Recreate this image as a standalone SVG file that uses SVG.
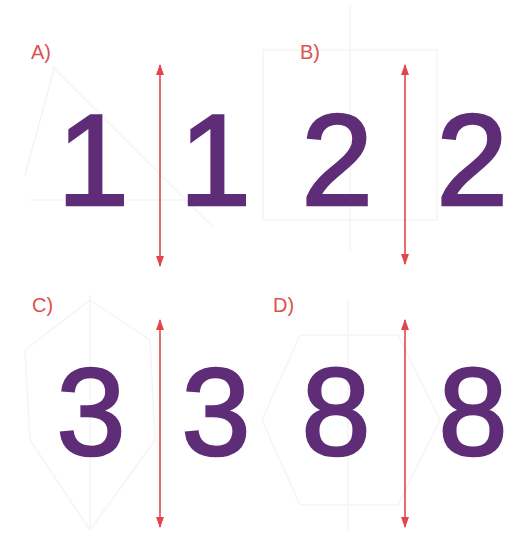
<svg xmlns="http://www.w3.org/2000/svg" width="523" height="538" viewBox="0 0 523 538">
<defs>
<style>
.lbl{font-family:"Liberation Sans",Arial,sans-serif;font-size:20px;fill:#e0504f}
.dig{font-family:"Liberation Sans",Arial,sans-serif;fill:#5f2d78;stroke:#5f2d78;stroke-width:2.6;stroke-linejoin:miter;text-anchor:middle}
.top{font-size:129px}
.bot{font-size:124px}
.arr{stroke:#e0474c;stroke-width:1.6;fill:none;marker-start:url(#ah);marker-end:url(#ah)}
.ghost{stroke:#f7f3f6;stroke-width:1.5;fill:none}
</style>
<marker id="ah" viewBox="0 0 10 10" refX="9" refY="5" markerWidth="11" markerHeight="8" markerUnits="userSpaceOnUse" orient="auto-start-reverse" preserveAspectRatio="none">
<path d="M0,0 L10,5 L0,10 z" fill="#e0474c"/>
</marker>
</defs>
<rect width="523" height="538" fill="#ffffff"/>
<g id="ghosts">
<path class="ghost" d="M52,66 L212,226 M30,200 L190,200 M55,66 L25,175"/>
<rect class="ghost" x="263" y="50" width="174" height="170"/>
<path class="ghost" d="M350,5 L350,250"/>
<path class="ghost" d="M90,300 L150,340 L155,440 L90,530 L30,440 L25,350 Z M90,295 L90,530"/>
<path class="ghost" d="M300,335 L398,335 L440,420 L398,505 L300,505 L262,420 Z M348,300 L348,530"/>
</g>
<g id="panelA">
<text class="lbl" x="31" y="59">A)</text>
<text class="dig top" x="93" y="205">1</text>
<text class="dig top" x="215" y="205">1</text>
</g>
<g id="panelB">
<text class="lbl" x="300" y="59">B)</text>
<text class="dig top" x="337" y="205">2</text>
<text class="dig top" x="472" y="205">2</text>
</g>
<g id="panelC">
<text class="lbl" x="32" y="312">C)</text>
<text class="dig bot" x="91" y="455">3</text>
<text class="dig bot" x="216" y="455">3</text>
</g>
<g id="panelD">
<text class="lbl" x="273" y="312">D)</text>
<text class="dig bot" x="336" y="455">8</text>
<text class="dig bot" x="473" y="455">8</text>
</g>
<g id="connectors">
<line class="arr" x1="160" y1="65" x2="160" y2="266"/>
<line class="arr" x1="405" y1="65" x2="405" y2="264"/>
<line class="arr" x1="160" y1="320" x2="160" y2="527"/>
<line class="arr" x1="405" y1="320" x2="405" y2="527"/>
</g>
</svg>
